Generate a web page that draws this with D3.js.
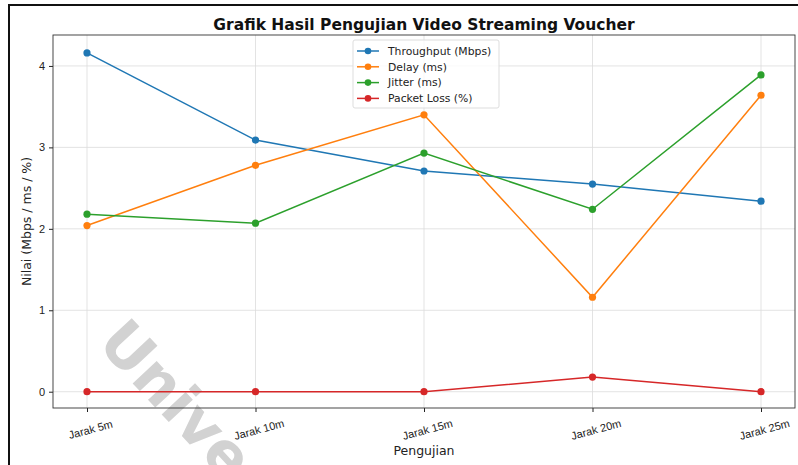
<!DOCTYPE html>
<html>
<head>
<meta charset="utf-8">
<script src="https://cdn.jsdelivr.net/npm/d3@7"></script>
<style>
  body { margin: 0; background: #fff; }
  svg { display: block; font-family: "DejaVu Sans", sans-serif; }
  .axis text { fill: #222; font-size: 11px; }
  .axis path, .axis line { stroke: #222; }
</style>
</head>
<body>
<script>
// data
var categories = ["Jarak 5m", "Jarak 10m", "Jarak 15m", "Jarak 20m", "Jarak 25m"];
var throughput = [4.16, 3.09, 2.71, 2.55, 2.34];
var delay = [2.04, 2.78, 3.40, 1.16, 3.64];
var jitter = [2.18, 2.07, 2.93, 2.24, 3.89];
var packetLoss = [0, 0, 0, 0.18, 0];
var yTicks = [0, 1, 2, 3, 4];

var series = [
  {name: "Throughput (Mbps)", values: throughput, color: "#1f77b4"},
  {name: "Delay (ms)", values: delay, color: "#ff7f0e"},
  {name: "Jitter (ms)", values: jitter, color: "#2ca02c"},
  {name: "Packet Loss (%)", values: packetLoss, color: "#d62728"}
];

var W = 798, H = 465;
var plot = {left: 53, right: 795, top: 35, bottom: 408};

var svg = d3.select("body").append("svg")
    .attr("width", W)
    .attr("height", H);

svg.append("rect").attr("width", W).attr("height", H).attr("fill", "#fff");

// watermark (sits under the chart, cut by the bottom edge like the original)
svg.append("text")
    .attr("transform", "translate(96,344) rotate(47)")
    .attr("font-size", 60)
    .attr("font-weight", "bold")
    .attr("fill", "#d2d2d2")
    .text("Unive");

// outer frame of the figure (cut off at right / bottom)
svg.append("rect")
    .attr("x", 9).attr("y", 5)
    .attr("width", W + 20).attr("height", H + 20)
    .attr("fill", "none")
    .attr("stroke", "#111")
    .attr("stroke-width", 2);

var x = d3.scalePoint().domain(categories).range([87, 761]);
var y = d3.scaleLinear().domain([-0.2, 4.38]).range([plot.bottom, plot.top]);

// grid
var grid = svg.append("g").attr("stroke", "#dcdcdc").attr("stroke-width", 0.8);
grid.selectAll(".gx").data(categories).enter().append("line")
    .attr("x1", function(d) { return x(d); }).attr("x2", function(d) { return x(d); })
    .attr("y1", plot.top).attr("y2", plot.bottom);
grid.selectAll(".gy").data(yTicks).enter().append("line")
    .attr("x1", plot.left).attr("x2", plot.right)
    .attr("y1", function(d) { return y(d); }).attr("y2", function(d) { return y(d); });

// axes
var gX = svg.append("g")
    .attr("class", "axis")
    .attr("transform", "translate(0," + plot.bottom + ")")
    .call(d3.axisBottom(x).tickSize(4).tickPadding(4));
gX.select(".domain").remove();
gX.selectAll("text")
    .attr("text-anchor", "middle")
    .attr("transform", "translate(0,10) rotate(-15)")
    .attr("dy", "0.71em");

var gY = svg.append("g")
    .attr("class", "axis")
    .attr("transform", "translate(" + plot.left + ",0)")
    .call(d3.axisLeft(y).tickValues(yTicks).tickSize(4).tickPadding(4).tickFormat(d3.format("d")));
gY.select(".domain").remove();

// plot frame
svg.append("rect")
    .attr("x", plot.left).attr("y", plot.top)
    .attr("width", plot.right - plot.left).attr("height", plot.bottom - plot.top)
    .attr("fill", "none")
    .attr("stroke", "#333")
    .attr("stroke-width", 0.9);

// lines
var line = d3.line()
    .x(function(d, i) { return x(categories[i]); })
    .y(function(d) { return y(d); });

var sg = svg.selectAll(".series").data(series).enter().append("g");
sg.append("path")
    .attr("d", function(d) { return line(d.values); })
    .attr("fill", "none")
    .attr("stroke", function(d) { return d.color; })
    .attr("stroke-width", 1.5);
sg.selectAll("circle")
    .data(function(d) { return d.values.map(function(v, i) { return {v: v, i: i, color: d.color}; }); })
    .enter().append("circle")
    .attr("cx", function(d) { return x(categories[d.i]); })
    .attr("cy", function(d) { return y(d.v); })
    .attr("r", 3.6)
    .attr("fill", function(d) { return d.color; });

// legend
var legend = svg.append("g").attr("transform", "translate(353,40)");
legend.append("rect")
    .attr("width", 146).attr("height", 68)
    .attr("rx", 2)
    .attr("fill", "#fff").attr("fill-opacity", 0.8)
    .attr("stroke", "#ddd");
var li = legend.selectAll(".li").data(series).enter().append("g")
    .attr("transform", function(d, i) { return "translate(0," + (11 + i * 15.8) + ")"; });
li.append("line").attr("x1", 4).attr("x2", 26)
    .attr("stroke", function(d) { return d.color; }).attr("stroke-width", 1.5);
li.append("circle").attr("cx", 15).attr("r", 3.3).attr("fill", function(d) { return d.color; });
li.append("text").attr("x", 35).attr("dy", "0.35em")
    .attr("font-size", 10.8).attr("fill", "#222")
    .text(function(d) { return d.name; });

// title and labels
svg.append("text")
    .attr("x", (plot.left + plot.right) / 2).attr("y", 30)
    .attr("text-anchor", "middle")
    .attr("font-size", 15.5).attr("font-weight", "bold").attr("fill", "#111")
    .text("Grafik Hasil Pengujian Video Streaming Voucher");

svg.append("text")
    .attr("x", (plot.left + plot.right) / 2).attr("y", 455)
    .attr("text-anchor", "middle")
    .attr("font-size", 12.5).attr("fill", "#222")
    .text("Pengujian");

svg.append("text")
    .attr("transform", "translate(31," + ((plot.top + plot.bottom) / 2) + ") rotate(-90)")
    .attr("text-anchor", "middle")
    .attr("font-size", 12.5).attr("fill", "#222")
    .text("Nilai (Mbps / ms / %)");
</script>
</body>
</html>
